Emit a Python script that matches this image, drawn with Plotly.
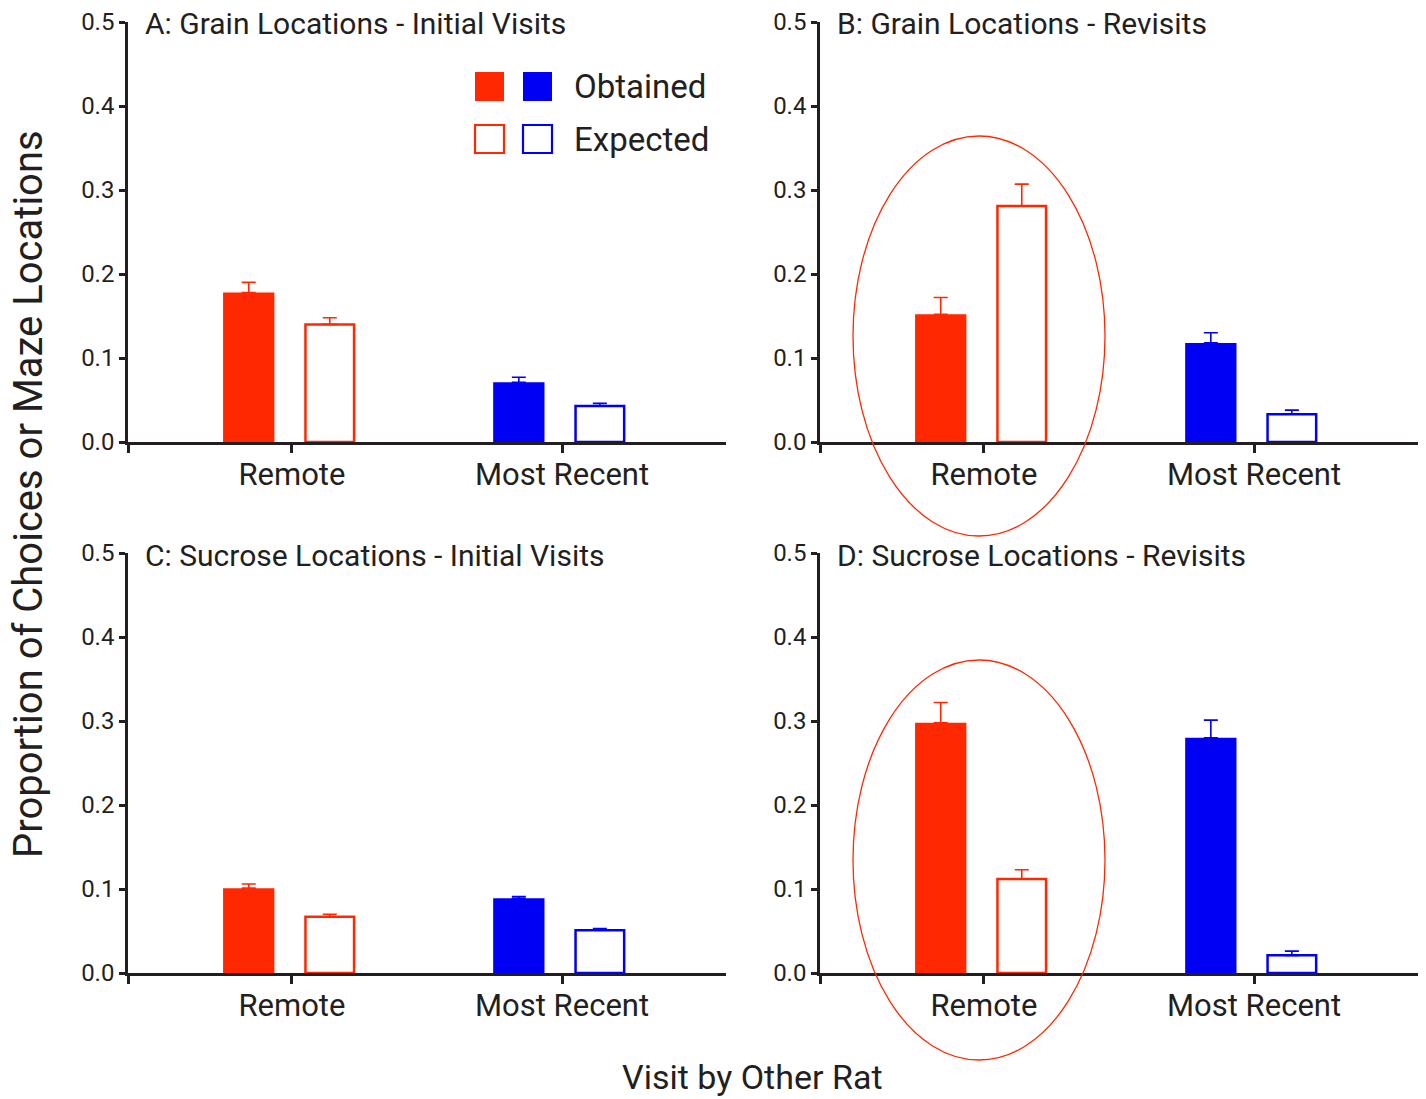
import plotly.graph_objects as go

# ---------------- data ----------------
categories = ["Remote", "Most Recent"]
panel_titles = [
    "A: Grain Locations - Initial Visits",
    "B: Grain Locations - Revisits",
    "C: Sucrose Locations - Initial Visits",
    "D: Sucrose Locations - Revisits",
]
obtained_A = [0.178, 0.071]
obtained_err_A = [0.012, 0.006]
expected_A = [0.140, 0.043]
expected_err_A = [0.008, 0.003]

obtained_B = [0.152, 0.118]
obtained_err_B = [0.020, 0.012]
expected_B = [0.281, 0.033]
expected_err_B = [0.026, 0.005]

obtained_C = [0.101, 0.089]
obtained_err_C = [0.005, 0.002]
expected_C = [0.067, 0.051]
expected_err_C = [0.003, 0.002]

obtained_D = [0.298, 0.280]
obtained_err_D = [0.024, 0.021]
expected_D = [0.112, 0.021]
expected_err_D = [0.011, 0.005]

y_ticks = [0.0, 0.1, 0.2, 0.3, 0.4, 0.5]
y_title = "Proportion of Choices or Maze Locations"
x_title = "Visit by Other Rat"
legend_labels = ["Obtained", "Expected"]

panels = [
    (obtained_A, obtained_err_A, expected_A, expected_err_A),
    (obtained_B, obtained_err_B, expected_B, expected_err_B),
    (obtained_C, obtained_err_C, expected_C, expected_err_C),
    (obtained_D, obtained_err_D, expected_D, expected_err_D),
]

# ---------------- style ----------------
W, H = 1426, 1099
RED = "#FF2800"
BLUE = "#0000F5"
INK = "#231F20"
FONT = "Roboto, sans-serif"
cat_colors = [RED, BLUE]

def px_x(p):
    return p / W

def px_y(p):
    return 1 - p / H

x_domains = [(128, 726), (820, 1418), (128, 726), (820, 1418)]
y_domains = [(22, 442), (22, 442), (553, 973), (553, 973)]
x_range = [-0.607, 1.607]
bar_w = 0.19
off_obt, off_exp = -0.16, 0.14

fig = go.Figure()

for i, (obt, obt_e, exp_, exp_e) in enumerate(panels):
    ax = "" if i == 0 else str(i + 1)
    for c, cat in enumerate(categories):
        col = cat_colors[c]
        fig.add_trace(go.Bar(
            x=[c + off_obt], y=[obt[c]], width=bar_w,
            marker=dict(color=col, line=dict(color=col, width=0)),
            error_y=dict(type="data", symmetric=False, array=[obt_e[c]], arrayminus=[0],
                         color=col, thickness=1.6, width=7),
            xaxis="x" + ax, yaxis="y" + ax, showlegend=False, name=cat,
        ))
        fig.add_trace(go.Bar(
            x=[c + off_exp], y=[exp_[c]], width=bar_w - 0.01,
            marker=dict(color="white", line=dict(color=col, width=2.5)),
            error_y=dict(type="data", symmetric=False, array=[exp_e[c]], arrayminus=[0],
                         color=col, thickness=1.6, width=7),
            xaxis="x" + ax, yaxis="y" + ax, showlegend=False, name=cat,
        ))

layout = dict(
    template="none",
    width=W, height=H,
    margin=dict(l=0, r=0, t=0, b=0, autoexpand=False),
    paper_bgcolor="white", plot_bgcolor="white",
    barmode="overlay",
    showlegend=False,
    font=dict(family=FONT, color=INK),
)

for i in range(4):
    k = "" if i == 0 else str(i + 1)
    xd = x_domains[i]
    yd = y_domains[i]
    layout["xaxis" + k] = dict(
        domain=[px_x(xd[0]), px_x(xd[1])],
        anchor="y" + k,
        range=x_range,
        tickmode="array",
        tickvals=[x_range[0], 0, 1],
        ticktext=["", categories[0], categories[1]],
        ticks="outside", ticklen=8, tickwidth=2.5, tickcolor=INK,
        showline=True, linecolor=INK, linewidth=2.5,
        showgrid=False, zeroline=False, automargin=False,
        ticklabelstandoff=-5,
        tickfont=dict(size=31, family=FONT, color=INK),
        fixedrange=True,
    )
    layout["yaxis" + k] = dict(
        domain=[px_y(yd[1]), px_y(yd[0])],
        anchor="x" + k,
        range=[0, 0.5],
        tickmode="array",
        tickvals=y_ticks,
        ticktext=[f"{v:.1f}" for v in y_ticks],
        ticks="outside", ticklen=6, tickwidth=2.5, tickcolor=INK,
        showline=True, linecolor=INK, linewidth=2.5,
        showgrid=False, zeroline=False, automargin=False,
        tickfont=dict(size=24, family=FONT, color=INK),
        fixedrange=True,
    )

annotations = []
title_pos = [(143, 24), (835, 24), (143, 555), (835, 555)]
for t, (tx, ty) in zip(panel_titles, title_pos):
    annotations.append(dict(
        text=t, xref="paper", yref="paper", x=px_x(tx), y=px_y(ty),
        xanchor="left", yanchor="middle", showarrow=False,
        font=dict(size=30, family=FONT, color=INK),
    ))

annotations.append(dict(
    text=y_title, xref="paper", yref="paper", x=px_x(29), y=px_y(494),
    xanchor="center", yanchor="middle", textangle=-90, showarrow=False,
    font=dict(size=40, family=FONT, color=INK),
))
annotations.append(dict(
    text=x_title, xref="paper", yref="paper", x=px_x(752), y=px_y(1077),
    xanchor="center", yanchor="middle", showarrow=False,
    font=dict(size=34, family=FONT, color=INK),
))

# legend (drawn manually)
shapes = []
legend_rows = [(72, 101), (125, 153)]
legend_cols = [(475, 504), (523, 552)]
for r, (y0, y1) in enumerate(legend_rows):
    for c, (x0, x1) in enumerate(legend_cols):
        col = cat_colors[c]
        shapes.append(dict(
            type="rect", xref="paper", yref="paper",
            x0=px_x(x0), x1=px_x(x1), y0=px_y(y1), y1=px_y(y0),
            fillcolor=col if r == 0 else "white",
            line=dict(color=col, width=0 if r == 0 else 2.2),
        ))
    annotations.append(dict(
        text=legend_labels[r], xref="paper", yref="paper",
        x=px_x(572), y=px_y((y0 + y1) / 2),
        xanchor="left", yanchor="middle", showarrow=False,
        font=dict(size=33, family=FONT, color=INK),
    ))

# highlight ellipses
for (ex0, ex1, ey0, ey1) in [(853, 1105, 136, 536), (853, 1105, 660, 1060)]:
    shapes.append(dict(
        type="circle", xref="paper", yref="paper",
        x0=px_x(ex0), x1=px_x(ex1), y0=px_y(ey1), y1=px_y(ey0),
        line=dict(color=RED, width=1.3), fillcolor="rgba(0,0,0,0)", layer="above",
    ))

layout["annotations"] = annotations
layout["shapes"] = shapes
fig.update_layout(**layout)

fig.write_html("out.html", config={"displayModeBar": False},
               post_script="document.body.style.margin='0px';")
